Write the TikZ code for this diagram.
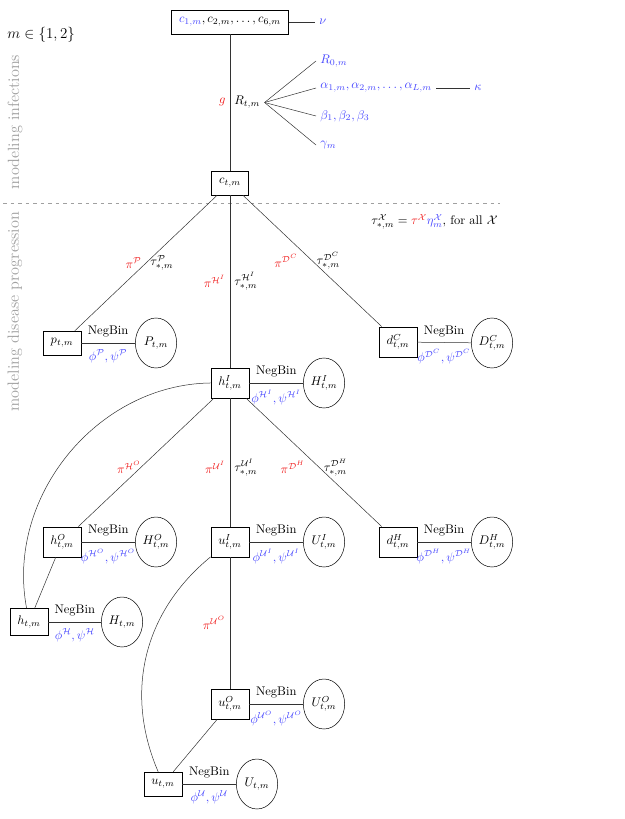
\documentclass[tikz,border=0pt]{standalone}
\usepackage{amsmath,amssymb}
\usetikzlibrary{shapes.geometric}
\definecolor{parred}{RGB}{240,30,30}
\definecolor{parblue}{RGB}{70,70,255}
\definecolor{regiongray}{RGB}{160,160,160}

\tikzset{
  latent/.style={draw,rectangle,inner sep=6pt,minimum width=26pt,minimum height=18pt},
  observed/.style={draw,ellipse,inner sep=1pt,minimum width=33pt,minimum height=40pt},
  link/.style={draw=black!80,line width=0.4pt},
  prob/.style={text=parred},
  prior/.style={text=parblue},
  region/.style={text=regiongray,font=\fontsize{13}{15}\selectfont,rotate=90}
}

\begin{document}
\begin{tikzpicture}[x=0.8pt,y=0.8pt]
  % --- canvas (pixel grid of the reference, y pointing down) ---
  \useasboundingbox (0,0) rectangle (624,-819);

  % --- region labels and separator ---
  \node[anchor=west,font=\large] (mset) at (3,-35) {$m\in\{1,2\}$};
  \node[region] (infect) at (15,-122) {modeling infections};
  \node[region] (progress) at (15,-312) {modeling disease progression};
  \coordinate (sepL) at (3,-203);
  \coordinate (sepR) at (500,-203);
  \draw[regiongray,dashed] (sepL) -- (sepR);
  \node[anchor=east] (taudef) at (502,-222)
    {$\tau^{\mathcal X}_{*,m}={\color{parred}\tau^{\mathcal X}}{\color{parblue}\eta^{\mathcal X}_m}$, for all $\mathcal X$};

  % --- infection model ---
  \node[latent] (cAll) at (230,-22)
    {${\color{parblue}c_{1,m}},c_{2,m},\dots,c_{6,m}$};
  \node[prior,anchor=west] (nu) at (315,-22) {$\nu$};
  \node[latent] (ct) at (230,-183) {$c_{t,m}$};

  \draw[link] (cAll) -- (nu);
  \draw[link] (cAll) -- node[left,prob] {$g$} node[right] (R) {$R_{t,m}$} (ct);

  \node[prior,anchor=west] (R0) at (316,-61) {$R_{0,m}$};
  \node[prior,anchor=west] (alpha) at (316,-88) {$\alpha_{1,m},\alpha_{2,m},\dots,\alpha_{L,m}$};
  \node[prior,anchor=west] (beta) at (316,-116) {$\beta_1,\beta_2,\beta_3$};
  \node[prior,anchor=west] (gamma) at (316,-145) {$\gamma_m$};
  \node[prior,anchor=west] (kappa) at (470,-88) {$\kappa$};

  \foreach \b in {R0,alpha,beta,gamma}{
    \draw[link] (R.east) -- (\b.west);
  }
  \draw[link] (alpha) -- (kappa);

  % --- latent counts (boxes) ---
  \node[latent] (pt) at (62,-343) {$p_{t,m}$};
  \node[latent] (dC) at (398,-342) {$d^C_{t,m}$};
  \node[latent] (hI) at (230,-383) {$h^I_{t,m}$};
  \node[latent] (hO) at (62,-542) {$h^O_{t,m}$};
  \node[latent] (uI) at (230,-542) {$u^I_{t,m}$};
  \node[latent] (dH) at (398,-542) {$d^H_{t,m}$};
  \node[latent] (h) at (29,-622) {$h_{t,m}$};
  \node[latent] (uO) at (230,-704) {$u^O_{t,m}$};
  \node[latent] (u) at (163,-784) {$u_{t,m}$};

  % --- observed counts (ellipses) ---
  \node[observed] (P) at (156,-343) {$P_{t,m}$};
  \node[observed] (DC) at (492,-343) {$D^C_{t,m}$};
  \node[observed] (HI) at (324,-383) {$H^I_{t,m}$};
  \node[observed] (HO) at (156,-542) {$H^O_{t,m}$};
  \node[observed] (UI) at (324,-542) {$U^I_{t,m}$};
  \node[observed] (DH) at (492,-542) {$D^H_{t,m}$};
  \node[observed] (H) at (122,-622) {$H_{t,m}$};
  \node[observed] (UO) at (324,-704) {$U^O_{t,m}$};
  \node[observed] (U) at (257,-784) {$U_{t,m}$};

  % --- progression links ---
  \draw[link] (ct) -- node[left,prob] {$\pi^{\mathcal P}$}
    node[right] {$\tau^{\mathcal P}_{*,m}$} (pt);
  \draw[link] (ct) -- node[left,prob] {$\pi^{\mathcal H^I}$}
    node[right] {$\tau^{\mathcal H^I}_{*,m}$} (hI);
  \draw[link] (ct) -- node[left=8pt,prob] {$\pi^{\mathcal D^C}$}
    node[right] {$\tau^{\mathcal D^C}_{*,m}$} (dC);
  \draw[link] (hI) -- node[pos=0.54,left=-4pt,prob] {$\pi^{\mathcal H^O}$} (hO);
  \draw[link] (hI) -- node[pos=0.54,left,prob] {$\pi^{\mathcal U^I}$}
    node[pos=0.54,right] {$\tau^{\mathcal U^I}_{*,m}$} (uI);
  \draw[link] (hI) -- node[pos=0.54,left=8pt,prob] {$\pi^{\mathcal D^H}$}
    node[pos=0.54,right] {$\tau^{\mathcal D^H}_{*,m}$} (dH);
  \draw[link] (uI) -- node[left,prob] {$\pi^{\mathcal U^O}$} (uO);
  \draw[link] (hO) -- (h);
  \draw[link] (uO) -- (u);
  \draw[link] (hI) to[bend right=50] (h);
  \draw[link] (uI) to[bend right=37] (u);

  % --- observation links (NegBin) ---
  \foreach \lat/\obs/\supx in {pt/P/{\mathcal P},dC/DC/{\mathcal D^C},hI/HI/{\mathcal H^I},
      hO/HO/{\mathcal H^O},uI/UI/{\mathcal U^I},dH/DH/{\mathcal D^H},
      h/H/{\mathcal H},uO/UO/{\mathcal U^O},u/U/{\mathcal U}}{
    \draw[link] (\lat) -- node[above=1pt] {NegBin}
      node[below=2pt,prior] {$\phi^{\supx},\psi^{\supx}$} (\obs);
  }
\end{tikzpicture}
\end{document}
